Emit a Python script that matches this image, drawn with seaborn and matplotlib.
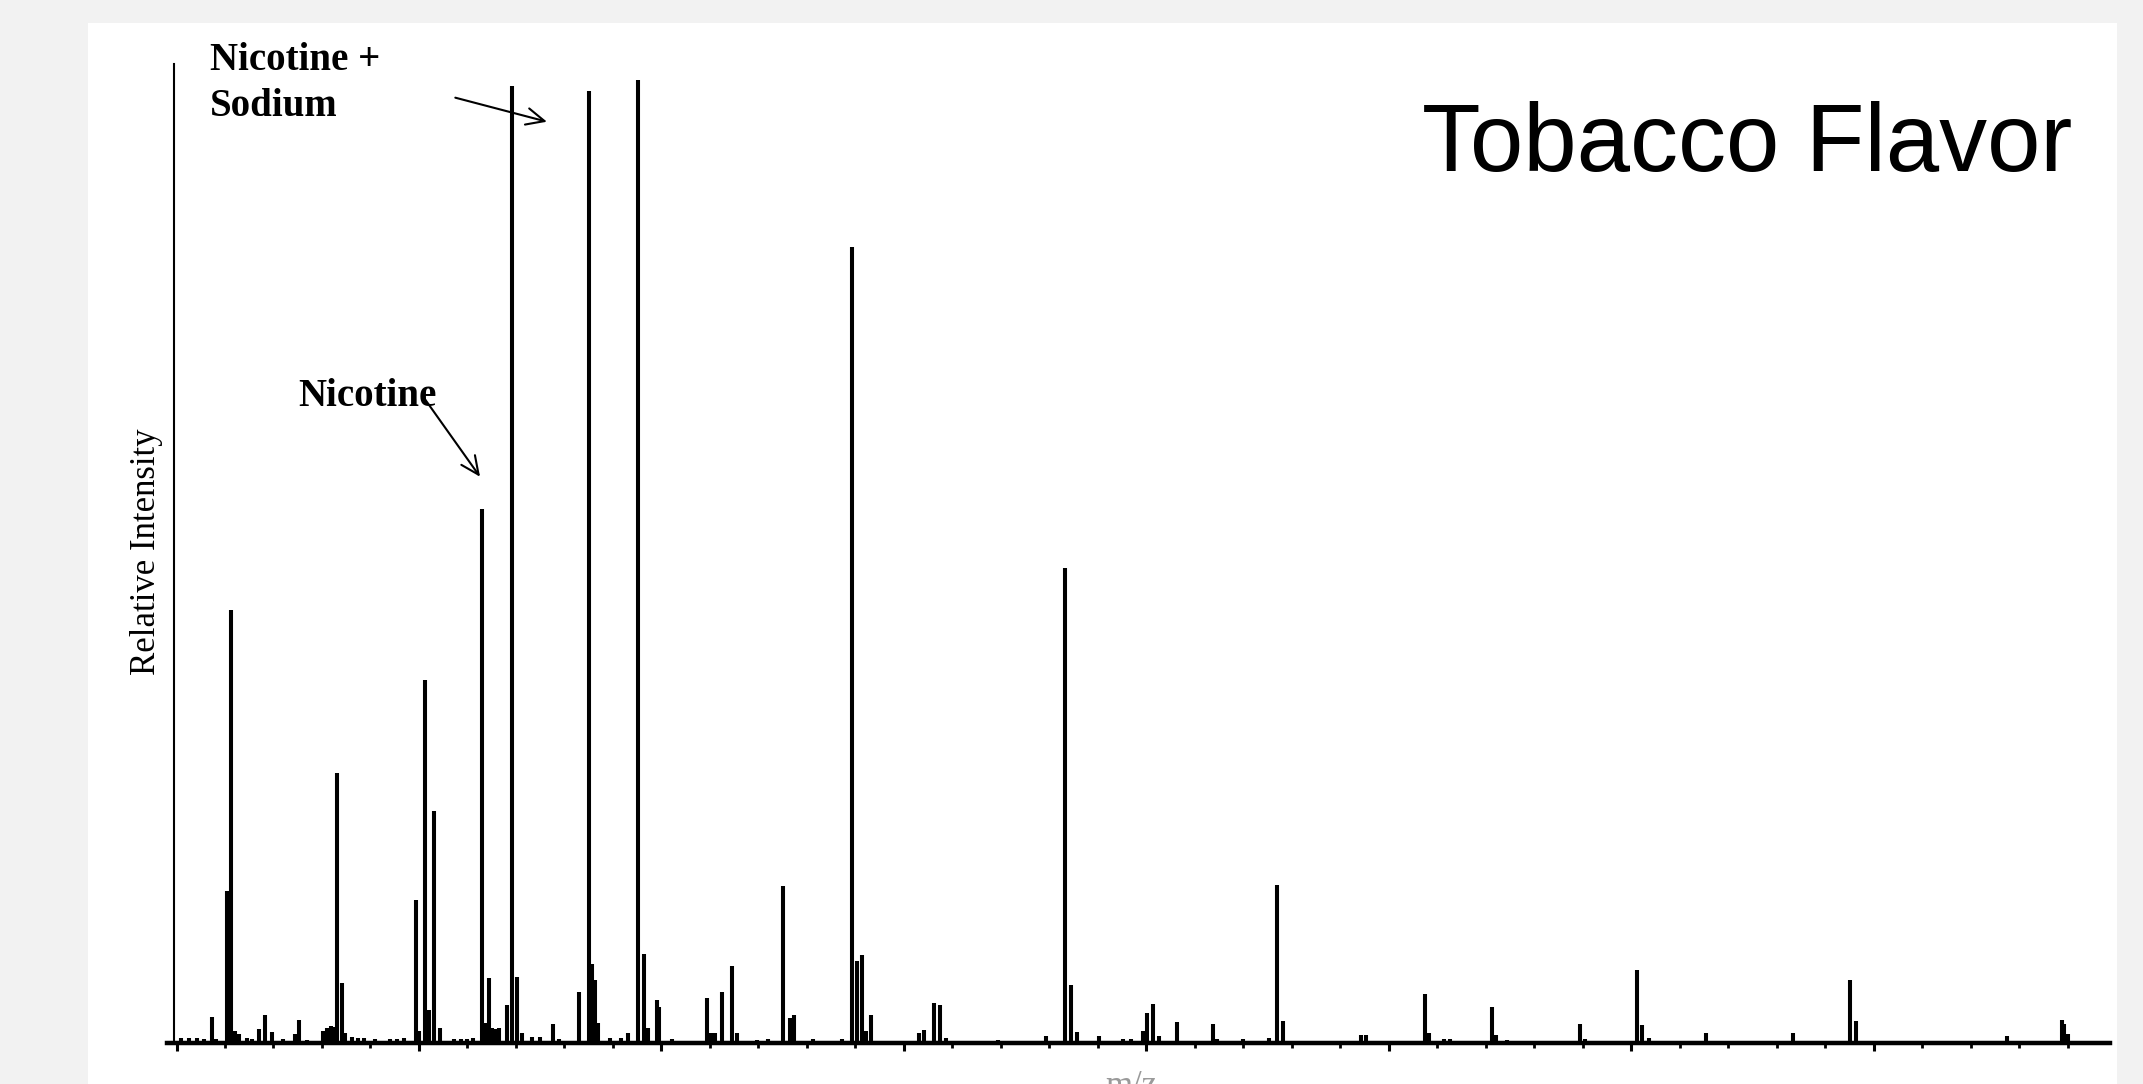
import numpy as np
import pandas as pd
import matplotlib
matplotlib.use("Agg")
import matplotlib.pyplot as plt
from matplotlib.patches import Rectangle
import seaborn as sns

# peaks: m/z and relative intensity (tallest = 100)
mz = [101.0, 102.6, 104.2, 105.6, 107.3, 108.2, 110.4, 111.2, 112.0, 112.8,
      114.5, 115.6, 117.0, 118.3, 119.6, 122.0, 124.5, 125.3, 127.0, 130.3,
      131.0, 131.8, 132.5, 133.2, 134.1, 134.8, 136.2, 137.5, 138.6, 141.0,
      144.0, 145.4, 147.0, 149.4, 150.1, 151.3, 152.0, 153.2, 154.4, 157.2,
      158.6, 160.0, 161.2, 163.0, 163.7, 164.4, 165.0, 165.8, 166.6, 168.2,
      169.1, 170.2, 171.2, 173.3, 175.0, 177.6, 178.8, 183.0, 185.0, 185.6,
      186.3, 187.0, 189.5, 191.6, 193.2, 195.2, 196.5, 197.2, 199.1, 199.5,
      202.2, 209.4, 210.3, 211.0, 212.6, 214.6, 215.5, 219.8, 222.0, 225.1,
      226.5, 227.3, 231.3, 237.2, 239.3, 240.4, 241.3, 242.2, 243.3, 253.1,
      254.1, 256.3, 257.5, 258.6, 269.5, 279.4, 283.3, 284.5, 285.7, 290.3,
      295.2, 296.8, 299.4, 300.2, 301.4, 302.6, 306.3, 313.7, 314.5, 320.0,
      325.4, 326.9, 328.2, 344.2, 345.4, 357.4, 358.4, 361.5, 362.6, 371.3,
      372.2, 374.5, 389.4, 390.4, 401.2, 402.3, 403.6, 415.4, 433.3, 445.2,
      446.4, 477.5, 488.8, 489.3, 490.0]
intensity = [0.5, 0.5, 0.5, 0.4, 2.6, 0.4, 15.7, 44.9, 1.2, 0.9,
             0.5, 0.4, 1.4, 2.9, 1.1, 0.4, 0.9, 2.3, 0.3, 1.2,
             1.5, 1.7, 1.6, 28.0, 6.2, 1.0, 0.6, 0.5, 0.5, 0.4,
             0.4, 0.4, 0.5, 14.8, 1.2, 37.7, 3.4, 24.1, 1.5, 0.4,
             0.4, 0.4, 0.5, 55.4, 2.0, 6.7, 1.5, 1.4, 1.5, 3.9,
             99.4, 6.8, 1.0, 0.6, 0.6, 1.9, 0.4, 5.2, 98.9, 8.2,
             6.5, 2.0, 0.5, 0.5, 1.0, 100.0, 9.2, 1.5, 4.4, 3.7,
             0.4, 4.6, 1.0, 1.0, 5.3, 8.0, 1.0, 0.3, 0.4, 16.3,
             2.5, 2.9, 0.4, 0.4, 82.7, 8.5, 9.1, 1.2, 2.9, 1.0,
             1.3, 4.1, 3.9, 0.5, 0.3, 0.7, 49.3, 6.0, 1.1, 0.7,
             0.4, 0.4, 1.2, 3.1, 4.0, 0.7, 2.1, 1.9, 0.4, 0.4,
             0.5, 16.4, 2.2, 0.8, 0.8, 5.0, 1.0, 0.4, 0.4, 3.7,
             0.8, 0.3, 1.9, 0.4, 7.5, 1.8, 0.5, 1.0, 1.0, 6.5,
             2.2, 0.7, 2.3, 1.9, 0.9]

title = "Tobacco Flavor"
ylabel = "Relative Intensity"
xlabel = "m/z"

# stick spectrum as one continuous profile along the baseline
x_lo, x_hi = 98.04, 498.7
px, py = [x_lo], [0.0]
for m, h in zip(mz, intensity):
    px += [m, m, m]
    py += [0.0, h, 0.0]
px.append(x_hi)
py.append(0.0)
profile = pd.DataFrame({"mz": px, "intensity": py})

sns.set_theme(style="white")
plt.rcParams["font.family"] = ["Liberation Serif", "DejaVu Serif"]
plt.rcParams["text.color"] = "black"

fig = plt.figure(figsize=(21.43, 10.84), dpi=100)
fig.patch.set_facecolor("#f2f2f2")
fig.patches.append(Rectangle((0.04106, 0.0), 0.9468, 0.97878, transform=fig.transFigure,
                             facecolor="white", edgecolor="none", zorder=-10))

ax = fig.add_axes([0.07793, 0.03828, 0.90653, 0.90268])
ax.set_facecolor("none")
sns.lineplot(data=profile, x="mz", y="intensity", estimator=None, sort=False,
             color="black", lw=2.9, ax=ax)
for ln in ax.lines:
    ln.set_solid_joinstyle("bevel")
    ln.set_solid_capstyle("butt")
    ln.set_clip_on(False)

ax.set_xlim(x_lo, x_hi)
ax.set_ylim(0, 101.7)

for s in ["top", "right"]:
    ax.spines[s].set_visible(False)
ax.spines["left"].set_position(("data", 99.48))
ax.spines["left"].set_linewidth(1.5)
ax.spines["left"].set_color("black")
ax.spines["bottom"].set_linewidth(3.2)
ax.spines["bottom"].set_color("black")

ax.set_xticks(np.arange(100, 451, 50))
ax.set_xticks(np.arange(100, 491, 10), minor=True)
ax.set_yticks([])
ax.tick_params(axis="x", which="major", direction="out", length=5.5, width=2.2,
               color="black", labelbottom=False, bottom=True)
ax.tick_params(axis="x", which="minor", direction="out", length=3.8, width=2.0,
               color="black", bottom=True)

ax.set_ylabel(ylabel, fontsize=25, color="black", va="center")
ax.yaxis.set_label_coords(-0.01045, 0.5013)
ax.set_xlabel(xlabel, fontsize=25, color="#9a9a9a", va="baseline")
ax.xaxis.set_label_coords(0.4962, -0.0537)

# annotations
arrow = dict(arrowstyle="->,head_length=0.65,head_width=0.3", color="black",
             lw=1.5, mutation_scale=20, shrinkA=0, shrinkB=0)
ax.annotate("", xy=(176.4, 95.7), xytext=(157.5, 98.2), arrowprops=arrow,
            annotation_clip=False)
ax.annotate("", xy=(162.6, 58.8), xytext=(150.9, 67.1), arrowprops=arrow,
            annotation_clip=False)
ax.text(106.9, 101.05, "Nicotine +", fontsize=28, fontweight="bold", color="black",
        va="baseline", ha="left", clip_on=False)
ax.text(106.9, 96.27, "Sodium", fontsize=28, fontweight="bold", color="black",
        va="baseline", ha="left")
ax.text(125.1, 66.2, "Nicotine", fontsize=28, fontweight="bold", color="black",
        va="baseline", ha="left")

fig.text(0.96687, 0.84225, title, fontsize=69, family="Liberation Sans",
         ha="right", va="baseline", color="black")

fig.savefig("out.png", dpi=100, facecolor=fig.get_facecolor())
